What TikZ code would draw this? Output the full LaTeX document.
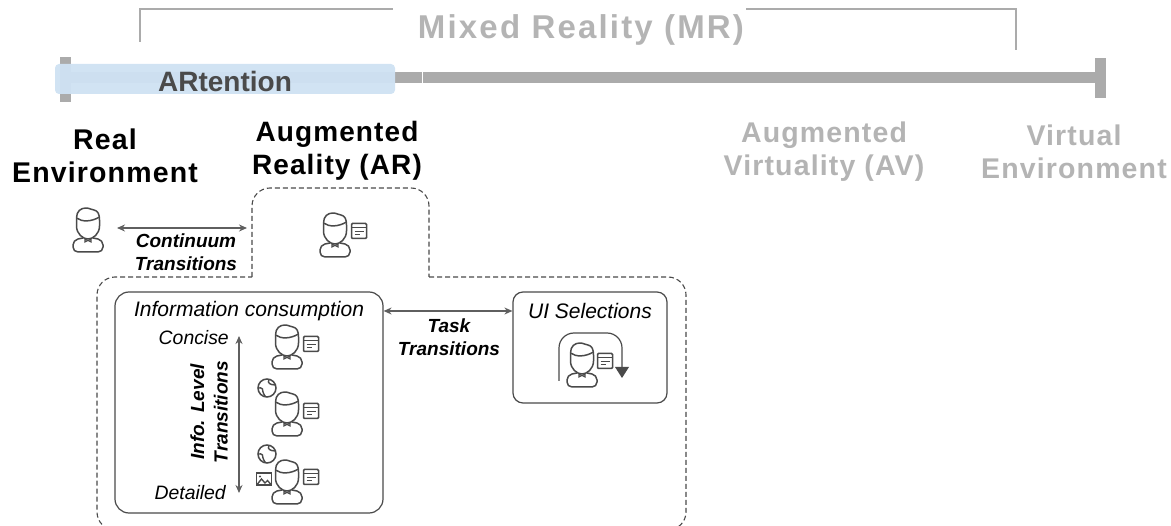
\documentclass[tikz,border=0pt]{standalone}
\usepackage{fontspec}
\usepackage{tikz}
\usetikzlibrary{arrows.meta}
\setmainfont{Liberation Sans}
\newfontfamily\spaced[LetterSpace=4]{Liberation Sans}
\newfontfamily\wide[LetterSpace=6.6]{Liberation Sans}
\definecolor{axisgray}{HTML}{ABABAB}
\definecolor{icongray}{HTML}{4A4A4A}
\definecolor{arrowgray}{HTML}{5F5F5F}
\definecolor{artblue}{HTML}{CFE2F3}
\tikzset{
  stage/.style={align=center, font=\spaced\fontsize{28.5}{33}\selectfont\bfseries, inner sep=0pt},
  faded/.style={text=axisgray!90},
  tag/.style={align=center, font=\fontsize{19}{23.5}\selectfont\bfseries\itshape, inner sep=0pt},
  plain/.style={font=\fontsize{21}{25}\selectfont\itshape, inner sep=0pt},
  panel/.style={draw=icongray, line width=1.2pt, rounded corners=14pt, inner sep=0pt},
  trans/.style={draw=arrowgray, line width=1.2pt, {Stealth[length=8pt,width=7pt]}-{Stealth[length=8pt,width=7pt]}},
  outline/.style={draw=icongray, line width=1.1pt, dash pattern=on 5pt off 3pt, rounded corners=18pt},
  pics/person/.style={code={
    \draw[icongray, line width=1.5pt, line join=round] (-11.5,10) .. controls (-11.5,3) and (-7,0) .. (-2,0) .. controls (2,0) and (3,2) .. (6,2) .. controls (10,3) and (11.5,6) .. (11.5,12) -- (11.5,18) .. controls (11.5,26) and (5,31) .. (0,31) .. controls (-5,31) and (-11.5,26) .. (-11.5,18) -- cycle;
    \draw[icongray, line width=1.5pt] (-11.5,10) .. controls (-6,14) and (3,14) .. (11.5,9);
    \draw[icongray, line width=1.5pt, rounded corners=5pt] (-5,30) -- (-15,32) -- (-15,44) -- (15,44) -- (15,32) -- (5,30);
    \draw[icongray, line width=1.1pt] (-3,31) -- (3,34) -- (3,31) -- (-3,34) -- cycle;
  }},
  pics/window/.style={code={
    \draw[icongray, line width=1.5pt, rounded corners=1pt] (-7.5,-7.5) rectangle (7.5,7.5);
    \draw[icongray, line width=1.5pt] (-7.5,-3.5) -- (7.5,-3.5);
    \draw[icongray, line width=1.4pt] (-4.5,0.5) -- (4.5,0.5);
    \draw[icongray, line width=1.4pt] (-4.5,3.8) -- (1,3.8);
  }},
  pics/globe/.style={code={
    \draw[icongray, line width=1.5pt] (0,0) circle (9);
    \draw[icongray, line width=1.4pt] (2,-8.5) .. controls (0,-5) and (3,-3) .. (8.8,-3);
    \draw[icongray, line width=1.4pt] (-8.8,0) .. controls (-5,-1) and (-3,2) .. (-4,4) .. controls (-4.5,6) and (-2,6) .. (-1.5,8.8);
  }},
  pics/photo/.style={code={
    \draw[icongray, line width=1.5pt] (-7.5,-6) rectangle (7.5,6);
    \draw[icongray, line width=1.4pt] (-6.5,5) -- (-2.5,0) -- (1,4) -- (3.5,1.5) -- (6.5,5);
    \fill[icongray] (-4,-2.5) circle (1.2);
  }}
}
\begin{document}
\begin{tikzpicture}[x=1pt, y=-1pt]
\useasboundingbox (0,0) rectangle (1171,526);

% spectrum
\fill[axisgray] (60,72) rectangle (1100,83);
\fill[axisgray] (60,57) rectangle (71,102);
\fill[axisgray] (1095,58) rectangle (1106,98);
\draw[white, line width=1pt] (422,71) -- (422,84);
\draw[axisgray, line width=2.2pt] (140,42) -- (140,9) -- (393,9);
\draw[axisgray, line width=2.2pt] (746,9) -- (1016,9) -- (1016,50);
\node[font=\wide\fontsize{33}{36}\selectfont\bfseries, faded, inner sep=0pt] (mixed) at (581,30) {Mixed Reality (MR)};
\node[fill=artblue, fill opacity=0.96, rounded corners=4pt, minimum width=340pt, minimum height=30pt, inner sep=0pt] (artbar) at (225,79) {};
\node[font=\fontsize{28}{30}\selectfont\bfseries, text=icongray, inner sep=0pt] (artlabel) at (225,81) {ARtention};

% stages
\node[stage] (real) at (105,156) {Real\\Environment};
\node[stage, font=\spaced\fontsize{28}{33}\selectfont\bfseries] (ar) at (337,151) {Augmented\\Reality (AR)};
\node[stage, faded] (av) at (824,152) {Augmented\\Virtuality (AV)};
\node[stage, faded] (ve) at (1074,152) {Virtual\\Environment};

% dashed outline
\draw[outline] (252,277) -- (252,188) -- (429,188) -- (429,277);
\draw[outline] (429,277) -- (686,277) -- (686,530) -- (97,530) -- (97,277) -- (252,277);

% boxes
\node[panel, minimum width=268pt, minimum height=221pt] (info) at (249,402.5) {};
\node[panel, rounded corners=10pt, minimum width=154pt, minimum height=111pt] (ui) at (590,347.5) {};
\node[plain] (infotitle) at (249,311) {Information consumption};
\node[plain] (uititle) at (590,311) {UI Selections};
\node[plain, anchor=east, font=\fontsize{19.4}{23}\selectfont\itshape] (concise) at (229,338) {Concise};
\node[plain, anchor=east, font=\fontsize{19.4}{23}\selectfont\itshape] (detailed) at (226,493) {Detailed};
\node[tag, rotate=90] (level) at (209,412) {Info. Level\\Transitions};
\node[tag] (continuum) at (186,252) {Continuum\\Transitions};
\node[tag] (task) at (449,337) {Task\\Transitions};

% connectors
\coordinate (contL) at (117,228);
\coordinate (contR) at (247,228);
\coordinate (taskL) at (info.east |- 0,311);
\coordinate (taskR) at (ui.west |- 0,311);
\coordinate (lvlT) at (239,336);
\coordinate (lvlB) at (239,493);
\draw[trans] (contL) -- (contR);
\draw[trans] (taskL) -- (taskR);
\draw[trans] (lvlT) -- (lvlB);

% icons
\pic at (88,208) {person};
\pic at (335,213) {person};
\pic at (359,231) {window};
\pic at (287,325) {person};
\pic at (311,344) {window};
\pic at (287,392) {person};
\pic at (311,411) {window};
\pic at (267,388) {globe};
\pic at (287,460) {person};
\pic at (311,477) {window};
\pic at (267,454) {globe};
\pic at (264,479) {photo};
\pic at (582,343) {person};
\pic at (605,361) {window};
\draw[icongray, line width=1.2pt, rounded corners=15pt] (559,381) -- (559,333) -- (622,333) -- (622,368);
\fill[icongray] (615,367) -- (629,367) -- (622,378) -- cycle;
\end{tikzpicture}
\end{document}
